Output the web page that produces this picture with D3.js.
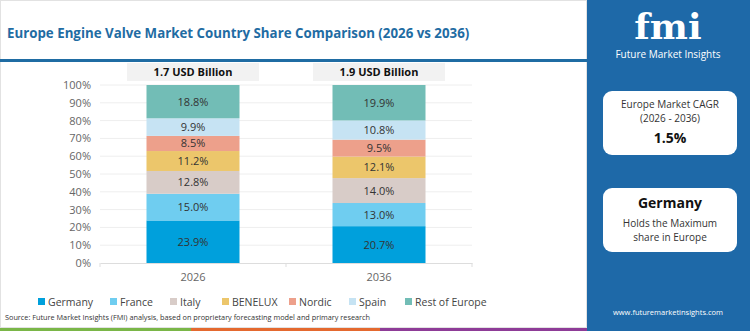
<!DOCTYPE html>
<html>
<head>
<meta charset="utf-8">
<script src="https://cdn.jsdelivr.net/npm/d3@7"></script>
<style>
  body { margin: 0; background: #fff; }
  svg { display: block; font-family: "Open Sans", sans-serif; }
</style>
</head>
<body>
<svg id="viz"></svg>
<script>
var width = 750;
var height = 331;

// Data
var years = ["2026", "2036"];
var totals = ["1.7 USD Billion", "1.9 USD Billion"];
var countries = ["Germany", "France", "Italy", "BENELUX", "Nordic", "Spain", "Rest of Europe"];
var share2026 = [23.9, 15.0, 12.8, 11.2, 8.5, 9.9, 18.8];
var share2036 = [20.7, 13.0, 14.0, 12.1, 9.5, 10.8, 19.9];
var colors = ["#00a0dc", "#6fcdf0", "#d8ccc8", "#ecc66b", "#eda08b", "#c6e3f3", "#72bdb6"];
var yTicks = [0, 10, 20, 30, 40, 50, 60, 70, 80, 90, 100];

var svg = d3.select("#viz")
  .attr("width", width)
  .attr("height", height);

// left panel border
svg.append("rect")
  .attr("x", 0.5).attr("y", 0.5)
  .attr("width", 586).attr("height", 327)
  .attr("fill", "#fff")
  .attr("stroke", "#e2e2e2");

// Title
svg.append("text")
  .attr("x", 7)
  .attr("y", 38)
  .attr("fill", "#1f6ca3")
  .style("font-size", "13.3px")
  .style("font-weight", "700")
  .text("Europe Engine Valve Market Country Share Comparison (2026 vs 2036)");

svg.append("rect")
  .attr("x", 0).attr("y", 59)
  .attr("width", 587).attr("height", 3)
  .attr("fill", "#1f6ca3");

// Scales
var x = d3.scaleBand()
  .domain(years)
  .range([100, 472])
  .paddingInner(0.5)
  .paddingOuter(0.25);

var y = d3.scaleLinear()
  .domain([0, 100])
  .range([263, 85]);

// gridlines
svg.append("g")
  .selectAll("line")
  .data(yTicks.slice(1))
  .enter().append("line")
  .attr("x1", 100).attr("x2", 472)
  .attr("y1", function(d) { return y(d); })
  .attr("y2", function(d) { return y(d); })
  .attr("stroke", "#eeeeee");

// y axis
var yAxis = d3.axisLeft(y)
  .tickValues(yTicks)
  .tickSize(0)
  .tickPadding(8)
  .tickFormat(function(d) { return d + "%"; });

svg.append("g")
  .attr("transform", "translate(99,0)")
  .call(yAxis)
  .call(function(g) { g.select(".domain").remove(); })
  .selectAll("text")
  .attr("fill", "#666")
  .style("font-size", "11px")
  .style("font-family", "'Open Sans', sans-serif");

// x axis
var xAxis = d3.axisBottom(x).tickSize(0).tickPadding(10);
var xg = svg.append("g")
  .attr("transform", "translate(0,263)")
  .call(xAxis);
xg.select(".domain").attr("stroke", "#dddddd");
xg.selectAll("text")
  .attr("fill", "#666")
  .style("font-size", "11px")
  .style("font-family", "'Open Sans', sans-serif");
xg.selectAll(".sep")
  .data([100, 286, 472])
  .enter().append("line")
  .attr("x1", function(d) { return d; })
  .attr("x2", function(d) { return d; })
  .attr("y1", 0).attr("y2", 4)
  .attr("stroke", "#dddddd");

// Stacked bars
var rows = years.map(function(yr, i) {
  var row = { year: yr };
  var vals = i === 0 ? share2026 : share2036;
  countries.forEach(function(c, j) { row[c] = vals[j]; });
  return row;
});

var stack = d3.stack().keys(countries);
var series = stack(rows);

var groups = svg.append("g")
  .selectAll("g")
  .data(series)
  .enter().append("g")
  .attr("fill", function(d, i) { return colors[i]; });

groups.selectAll("rect")
  .data(function(d) { return d; })
  .enter().append("rect")
  .attr("x", function(d) { return x(d.data.year); })
  .attr("width", x.bandwidth())
  .attr("y", function(d) { return y(Math.min(d[1], 100)); })
  .attr("height", function(d) { return y(d[0]) - y(Math.min(d[1], 100)); });

groups.selectAll("text")
  .data(function(d) { return d; })
  .enter().append("text")
  .attr("x", function(d) { return x(d.data.year) + x.bandwidth() / 2; })
  .attr("y", function(d) { return (y(d[0]) + y(Math.min(d[1], 100))) / 2 + 4; })
  .attr("text-anchor", "middle")
  .attr("fill", "#333")
  .style("font-size", "11px")
  .text(function(d) { return (d[1] - d[0]).toFixed(1) + "%"; });

// total value headers
var heads = svg.append("g")
  .selectAll("g")
  .data(years)
  .enter().append("g");

heads.append("rect")
  .attr("x", function(d) { return x(d) + x.bandwidth() / 2 - 66; })
  .attr("y", 63)
  .attr("width", 132)
  .attr("height", 18)
  .attr("fill", "#f2f2f2");

heads.append("text")
  .attr("x", function(d) { return x(d) + x.bandwidth() / 2; })
  .attr("y", 76)
  .attr("text-anchor", "middle")
  .attr("fill", "#111")
  .style("font-size", "11px")
  .style("font-weight", "700")
  .text(function(d, i) { return totals[i]; });

// Legend
var legendX = [38, 110, 170, 222, 289, 349, 405];
var legend = svg.append("g")
  .selectAll("g")
  .data(countries)
  .enter().append("g")
  .attr("transform", function(d, i) { return "translate(" + legendX[i] + ",298)"; });

legend.append("rect")
  .attr("width", 7).attr("height", 7)
  .attr("fill", function(d, i) { return colors[i]; });

legend.append("text")
  .attr("x", 10).attr("y", 7.5)
  .attr("fill", "#444")
  .style("font-size", "10.5px")
  .text(function(d) { return d; });

// Source
svg.append("text")
  .attr("x", 5).attr("y", 320)
  .attr("fill", "#333")
  .style("font-size", "7.3px")
  .text("Source: Future Market Insights (FMI) analysis, based on proprietary forecasting model and primary research");

// bottom stripes
var stripes = [[0, 191, "#7ab648"], [191, 380, "#e4692f"], [380, 587, "#8e3c97"]];
svg.append("g")
  .selectAll("rect")
  .data(stripes)
  .enter().append("rect")
  .attr("x", function(d) { return d[0]; })
  .attr("y", 328)
  .attr("width", function(d) { return d[1] - d[0]; })
  .attr("height", 3)
  .attr("fill", function(d) { return d[2]; });

// Right panel
var side = svg.append("g");
side.append("rect")
  .attr("x", 587).attr("y", 0)
  .attr("width", 163).attr("height", height)
  .attr("fill", "#1e69a8");

side.append("text")
  .attr("x", 668).attr("y", 39)
  .attr("text-anchor", "middle")
  .attr("fill", "#fff")
  .style("font-family", "'DejaVu Serif', serif")
  .style("font-size", "36px")
  .style("font-weight", "700")
  .text("fmi");

side.append("text")
  .attr("x", 668).attr("y", 58)
  .attr("text-anchor", "middle")
  .attr("fill", "#fff")
  .style("font-size", "10px")
  .text("Future Market Insights");

var cards = [
  { y: 91, h: 64, lines: [["Europe Market CAGR", 108, 10, 400], ["(2026 - 2036)", 122, 10, 400], ["1.5%", 143, 14, 700]] },
  { y: 188, h: 64, lines: [["Germany", 208, 14, 700], ["Holds the Maximum", 227, 10, 400], ["share in Europe", 241, 10, 400]] }
];

cards.forEach(function(c) {
  side.append("rect")
    .attr("x", 603).attr("y", c.y)
    .attr("width", 134).attr("height", c.h)
    .attr("rx", 9)
    .attr("fill", "#fff");
  c.lines.forEach(function(l) {
    side.append("text")
      .attr("x", 670).attr("y", l[1])
      .attr("text-anchor", "middle")
      .attr("fill", l[3] === 700 ? "#111" : "#333")
      .style("font-size", l[2] + "px")
      .style("font-weight", l[3])
      .text(l[0]);
  });
});

side.append("text")
  .attr("x", 668).attr("y", 315)
  .attr("text-anchor", "middle")
  .attr("fill", "#fff")
  .style("font-size", "7.5px")
  .text("www.futuremarketinsights.com");
</script>
</body>
</html>
